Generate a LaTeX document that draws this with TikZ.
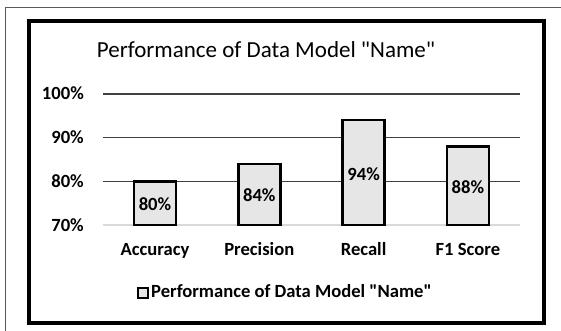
\documentclass[tikz,border=0pt]{standalone}
\usepackage{fontspec}
\setmainfont{Carlito}[Ligatures=TeXOff]
\usepackage{tikz}
\usetikzlibrary{calc}
\definecolor{barfill}{HTML}{E6E6E6}
\definecolor{gridcolor}{HTML}{404040}
\definecolor{axiscolor}{HTML}{D9D9D9}
\definecolor{framecolor}{HTML}{595959}

\begin{document}
\begin{tikzpicture}[x=1pt,y=-1pt,
    lab/.style={font=\fontsize{18.6}{22}\selectfont\bfseries, inner sep=0pt, anchor=base},
    bar/.style={draw=black, line width=2.6pt, fill=barfill}]
\useasboundingbox (0,0) rectangle (561,331);
%% frames
\draw [framecolor, line width=0.9pt] (5,331) -- (5,7) -- (561,7);
\draw [black, line width=3.6pt] (29,21) rectangle (544,323);
\node [inner sep=0pt, anchor=base] (title) at (266,58) {\fontsize{23}{27}\selectfont Performance of Data Model "Name"};
%% grid and axis labels
\foreach \p/\y in {100/94, 90/137.6, 80/181.3}
   \draw [gridcolor, line width=1.3pt] (103,\y) -- (520,\y);
\draw [axiscolor, line width=1.2pt] (103,225) -- (520,225);
\foreach \p/\y in {100/94, 90/137.6, 80/181.3, 70/225}
   \node [lab, anchor=base east] (tick\p) at (84,\y+6) {\p\%};
%% bars
\foreach \i/\cat/\val/\ytop/\ylab in {0/Accuracy/80/181.3/210, 1/Precision/84/163.8/201.5, 2/Recall/94/120.1/180, 3/F1 Score/88/146.3/193}
{
   \draw [bar] ({155+\i*104.3-21},225) rectangle ({155+\i*104.3+21},\ytop);
   \node [lab] (val\i) at ({155+\i*104.3},\ylab) {\val\%};
   \node [lab] (cat\i) at ({155+\i*104.3},255) {\cat};
}
%% legend
\draw [bar, line width=2pt] (138,288) rectangle (148,298);
\node [lab, anchor=base west] (legend) at (151,297) {Performance of Data Model "Name"};
\end{tikzpicture}
\end{document}
